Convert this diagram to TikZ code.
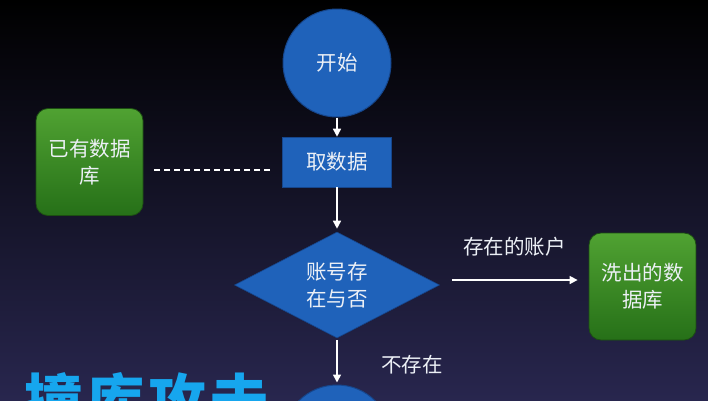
\documentclass[tikz,border=0pt]{standalone}
\usepackage{fontspec}
\setmainfont{Noto Sans CJK SC}
\usetikzlibrary{shapes.geometric,arrows.meta}
\definecolor{bgbot}{RGB}{40,38,78}
\definecolor{bgmid}{RGB}{14,13,30}
\definecolor{flowblue}{RGB}{31,98,186}
\definecolor{flowblueedge}{RGB}{22,70,140}
\definecolor{greentop}{RGB}{80,162,50}
\definecolor{greenbot}{RGB}{38,112,24}
\definecolor{greenedge}{RGB}{28,78,18}
\definecolor{nodetext}{RGB}{236,240,246}
\definecolor{titleblue}{RGB}{22,166,238}
\tikzset{
  x=1pt, y=-1pt,
  every node/.style={font=\fontsize{20.5}{27}\selectfont, text=nodetext, align=center},
  terminal/.style={circle, fill=flowblue, draw=flowblueedge, line width=1pt, minimum size=108pt, inner sep=0pt},
  process/.style={rectangle, fill=flowblue, draw=flowblueedge, line width=0.6pt, minimum width=109pt, minimum height=50pt, inner sep=0pt},
  decision/.style={diamond, fill=flowblue, draw=flowblueedge, line width=0.6pt, minimum width=205pt, minimum height=106pt, inner sep=0pt, aspect=1.93},
  dbbox/.style={rectangle, rounded corners=12pt, top color=greentop, bottom color=greenbot, draw=greenedge, line width=0.8pt, minimum width=107pt, minimum height=107pt, inner sep=0pt},
  flowarrow/.style={draw=white, line width=1.6pt, -{Triangle[width=8pt,length=8pt]}},
  dashlink/.style={draw=white, line width=2pt, dash pattern=on 6pt off 4pt},
  edgelabel/.style={font=\fontsize{20.5}{24}\selectfont, text=nodetext}
}
\begin{document}
\begin{tikzpicture}
\useasboundingbox (0,0) rectangle (708,400);
\clip (0,0) rectangle (708,400);
\shade[top color=black, middle color=bgmid, bottom color=bgbot] (0,0) rectangle (708,400);

\node[terminal] (start) at (337,63) {开始};
\node[process] (fetch) at (337,162) {取数据};
\node[decision] (check) at (337,285) {账号存\\在与否};
\node[terminal] (finish) at (337,439) {};
\node[dbbox] (known) at (89.5,162) {已有数据\\库};
\node[dbbox] (washed) at (642.5,286.5) {洗出的数\\据库};

\draw[flowarrow] (start) -- (fetch);
\draw[flowarrow, shorten >=3pt] (fetch) -- (check);
\draw[flowarrow, shorten <=2pt, shorten >=2pt] (check) -- (finish)
  node[midway, anchor=west, xshift=40pt, yshift=-3pt, edgelabel] (nolabel) {不存在};
\draw[flowarrow] ([xshift=12pt,yshift=5pt]check.east) -- ([xshift=-11pt,yshift=6.5pt]washed.west)
  node[midway, yshift=33pt, edgelabel] (yeslabel) {存在的账户};
\draw[dashlink] ([xshift=11pt,yshift=-8pt]known.east) -- ([xshift=-11pt,yshift=-8pt]fetch.west);

\node[anchor=base west, inner sep=0pt, text=titleblue, font=\fontsize{58}{58}\bfseries\selectfont] (title) at (24,422) {撞\hspace{4pt}库\hspace{4pt}攻\hspace{4pt}击};
\end{tikzpicture}
\end{document}
